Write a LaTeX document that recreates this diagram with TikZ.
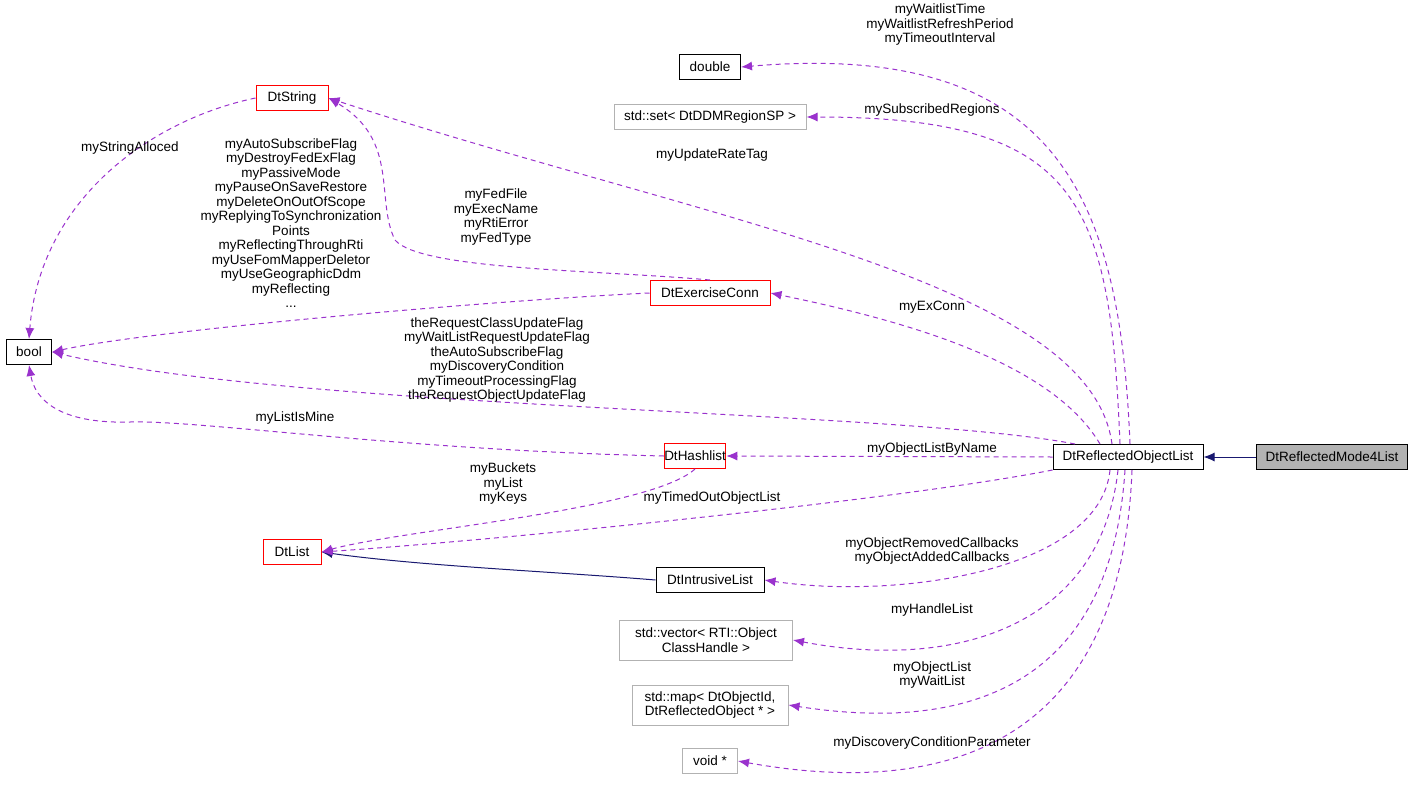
\documentclass[tikz,border=0pt]{standalone}
\usepackage{fontspec}
\setmainfont{Liberation Sans}
\usetikzlibrary{arrows.meta}
\definecolor{ep}{HTML}{9A32CD}
\definecolor{nv}{HTML}{191970}
\begin{document}
\begin{tikzpicture}[x=1pt,y=-1pt,font=\fontsize{13.5}{14.5}\selectfont,
 box/.style={draw,rectangle,inner sep=0pt,minimum height=25pt,align=center,line width=1pt},
 rb/.style={box,draw=red},
 gb/.style={box,draw=black!30},
 dep/.style={draw=ep,line width=1pt,dash pattern=on 5pt off 4pt,-{Latex[length=11pt,width=9pt]}},
 inh/.style={draw=nv,line width=1pt,-{Latex[length=11pt,width=9pt,fill=nv]}},
 lab/.style={align=center,inner sep=0pt,font=\fontsize{13.5}{14.5}\selectfont}]
\path[use as bounding box] (0,0) rectangle (1413,798);
\node[box,minimum width=61] (dbl) at (710,67) {double};
\node[gb,minimum width=192] (set) at (710,117) {std::set< DtDDMRegionSP >};
\node[rb,minimum width=72] (str) at (292,98) {DtString};
\node[box,minimum width=45] (bool) at (29,352) {bool};
\node[rb,minimum width=120] (ex) at (710,293) {DtExerciseConn};
\node[rb,minimum width=55] (hash) at (695,456) {DtHashlist};
\node[box,minimum width=150] (rol) at (1128,457) {DtReflectedObjectList};
\node[box,fill=black!30,minimum width=151] (m4) at (1332,457) {DtReflectedMode4List};
\node[rb,minimum width=58] (lst) at (292,552) {DtList};
\node[box,minimum width=108] (il) at (710,580) {DtIntrusiveList};
\node[gb,minimum width=173,minimum height=40] (vec) at (706,640) {std::vector< RTI::Object\\ClassHandle >};
\node[gb,minimum width=156,minimum height=40] (map) at (710,705) {std::map< DtObjectId,\\ DtReflectedObject * >};
\node[gb,minimum width=55] (vd) at (710,761) {void *};

\draw[inh] (m4.west) -- (rol.east);
\draw[inh] (il.west) .. controls (560,572) and (420,566) .. (lst.east);

\draw[dep] (1130,444) .. controls (1120,200) and (1060,40) .. (dbl.east);
\draw[dep] (1120,444) .. controls (1110,200) and (1080,117) .. (set.east);
\draw[dep] (1112,444) .. controls (1090,280) and (700,220) .. (str.east);
\draw[dep] (1100,444) .. controls (1050,360) and (900,320) .. (ex.east);
\draw[dep] (1075,444) .. controls (900,410) and (300,410) .. (bool.east);
\draw[dep] (ex.west) .. controls (500,300) and (150,330) .. (bool.east);
\draw[dep] (ex.north) .. controls (600,270) and (420,270) .. (395,240) .. controls (375,200) and (400,140) .. (str.east);
\draw[dep] (str.west) .. controls (150,120) and (40,200) .. (bool.north);
\draw[dep] (hash.west) .. controls (400,450) and (200,420) .. (130,422) .. controls (60,424) and (35,400) .. (bool.south);
\draw[dep] (rol.west) -- (hash.east);
\draw[dep] (hash.south) .. controls (650,510) and (400,530) .. (lst.east);
\draw[dep] (rol.south west) .. controls (900,500) and (500,540) .. (lst.east);
\draw[dep] (1110,470) .. controls (1100,570) and (900,600) .. (il.east);
\draw[dep] (1118,470) .. controls (1100,630) and (950,670) .. (vec.east);
\draw[dep] (1125,470) .. controls (1110,700) and (950,730) .. (map.east);
\draw[dep] (1132,470) .. controls (1120,780) and (900,790) .. (vd.east);

\node[lab] (l1) at (940,25) {myWaitlistTime\\myWaitlistRefreshPeriod\\myTimeoutInterval};
\node[lab] (l2) at (932,110) {mySubscribedRegions};
\node[lab] (l3) at (712,155) {myUpdateRateTag};
\node[lab] (l4) at (932,307) {myExConn};
\node[lab] (l5) at (497,360) {theRequestClassUpdateFlag\\myWaitListRequestUpdateFlag\\theAutoSubscribeFlag\\myDiscoveryCondition\\myTimeoutProcessingFlag\\theRequestObjectUpdateFlag};
\node[lab] (l6) at (291,223) {myAutoSubscribeFlag\\myDestroyFedExFlag\\myPassiveMode\\myPauseOnSaveRestore\\myDeleteOnOutOfScope\\myReplyingToSynchronization\\Points\\myReflectingThroughRti\\myUseFomMapperDeletor\\myUseGeographicDdm\\myReflecting\\...};
\node[lab] (l7) at (496,217) {myFedFile\\myExecName\\myRtiError\\myFedType};
\node[lab] (l8) at (130,148) {myStringAlloced};
\node[lab] (l9) at (295,418) {myListIsMine};
\node[lab] (l10) at (932,449) {myObjectListByName};
\node[lab] (l11) at (503,484) {myBuckets\\myList\\myKeys};
\node[lab] (l12) at (712,498) {myTimedOutObjectList};
\node[lab] (l13) at (932,551) {myObjectRemovedCallbacks\\myObjectAddedCallbacks};
\node[lab] (l14) at (932,610) {myHandleList};
\node[lab] (l15) at (932,675) {myObjectList\\myWaitList};
\node[lab] (l16) at (932,743) {myDiscoveryConditionParameter};
\end{tikzpicture}
\end{document}
